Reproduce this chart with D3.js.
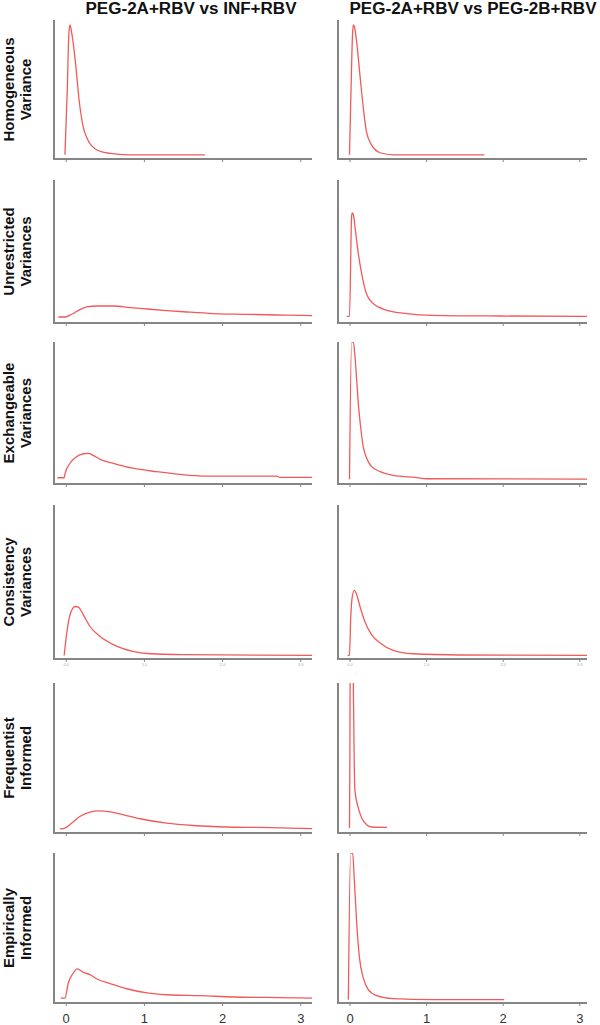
<!DOCTYPE html>
<html>
<head>
<meta charset="utf-8">
<script src="https://cdn.jsdelivr.net/npm/d3@7"></script>
<style>
  html, body { margin: 0; padding: 0; background: #fff; }
  svg { display: block; }
</style>
</head>
<body>
<svg id="chart" width="600" height="1025"></svg>
<script>
// ---- Data (x = value, y = relative density, 0..1 of panel height) ----
const columnTitles = ["PEG-2A+RBV vs INF+RBV", "PEG-2A+RBV vs PEG-2B+RBV"];
const rowLabels = [
  ["Homogeneous", "Variance"],
  ["Unrestricted", "Variances"],
  ["Exchangeable", "Variances"],
  ["Consistency", "Variances"],
  ["Frequentist", "Informed"],
  ["Empirically", "Informed"]
];
const xTicks = [0, 1, 2, 3];
const smallTickLabels = ["0.0", "1.0", "2.0", "3.0"];

const homogeneousLeft = [[-0.01,0.03],[0.02,0.5],[0.04,0.9],[0.055,0.965],[0.077,0.905],[0.13,0.665],[0.17,0.43],[0.22,0.24],[0.28,0.14],[0.40,0.065],[0.57,0.04],[0.8,0.03],[1.78,0.03]];
const homogeneousRight = [[0,0.03],[0.02,0.5],[0.04,0.9],[0.05,0.965],[0.065,0.95],[0.094,0.84],[0.137,0.60],[0.18,0.37],[0.22,0.2],[0.29,0.1],[0.40,0.045],[0.57,0.03],[1.76,0.03]];

const unrestrictedLeft = [[-0.095,0.042],[-0.01,0.042],[0.077,0.061],[0.18,0.094],[0.27,0.112],[0.40,0.119],[0.61,0.119],[0.82,0.108],[1.04,0.098],[1.29,0.087],[1.55,0.077],[1.89,0.066],[2.31,0.061],[2.70,0.056],[3.0,0.054],[3.15,0.052]];
const unrestrictedRight = [[-0.037,0.047],[0,0.047],[0.028,0.75],[0.037,0.77],[0.05,0.76],[0.072,0.67],[0.115,0.486],[0.159,0.346],[0.22,0.206],[0.31,0.136],[0.49,0.089],[0.75,0.066],[1.09,0.054],[1.96,0.049],[3.1,0.047]];

const exchangeableLeft = [[-0.107,0.044],[-0.02,0.044],[-0.01,0.07],[0.055,0.146],[0.12,0.185],[0.225,0.213],[0.29,0.216],[0.35,0.202],[0.44,0.174],[0.61,0.146],[0.86,0.111],[1.16,0.087],[1.46,0.068],[1.80,0.056],[2.70,0.056],[2.74,0.047],[3.15,0.047]];
const exchangeableRight = [[0,0.033],[0.028,1.0],[0.05,1.0],[0.072,0.896],[0.094,0.732],[0.115,0.568],[0.146,0.40],[0.18,0.263],[0.224,0.181],[0.29,0.122],[0.40,0.087],[0.57,0.06],[0.88,0.045],[1.0,0.037],[3.1,0.035]];

const consistencyLeft = [[-0.02,0.023],[0.013,0.168],[0.055,0.287],[0.12,0.341],[0.16,0.337],[0.225,0.287],[0.31,0.211],[0.44,0.146],[0.61,0.093],[0.86,0.049],[1.08,0.034],[1.50,0.028],[3.15,0.023]];
const consistencyRight = [[-0.024,0.023],[0,0.023],[0.015,0.255],[0.037,0.406],[0.063,0.445],[0.094,0.417],[0.137,0.341],[0.20,0.244],[0.29,0.157],[0.40,0.104],[0.57,0.056],[0.83,0.034],[1.44,0.026],[3.1,0.023]];

const frequentistLeft = [[-0.073,0.027],[-0.01,0.033],[0.077,0.066],[0.18,0.11],[0.31,0.139],[0.42,0.148],[0.57,0.141],[0.74,0.121],[0.95,0.095],[1.29,0.066],[1.63,0.050],[2.06,0.040],[2.48,0.037],[3.15,0.029]];
const frequentistRight = [[0,0.033],[0.005,0.5],[0.012,1.5],[0.04,1.5],[0.05,1.0],[0.07,0.287],[0.11,0.177],[0.159,0.10],[0.224,0.055],[0.29,0.04],[0.49,0.037]];

const empiricalLeft = [[-0.064,0.033],[-0.01,0.033],[0.033,0.133],[0.097,0.2],[0.148,0.227],[0.225,0.204],[0.31,0.189],[0.40,0.16],[0.57,0.129],[0.78,0.095],[1.04,0.067],[1.29,0.055],[1.72,0.049],[2.14,0.04],[2.57,0.037],[3.15,0.033]];
const empiricalRight = [[-0.015,0.022],[0.015,1.0],[0.041,1.0],[0.063,0.822],[0.094,0.533],[0.128,0.311],[0.18,0.167],[0.245,0.089],[0.355,0.049],[0.57,0.029],[1.09,0.022],[2.02,0.022]];

const panels = [
  [homogeneousLeft, homogeneousRight],
  [unrestrictedLeft, unrestrictedRight],
  [exchangeableLeft, exchangeableRight],
  [consistencyLeft, consistencyRight],
  [frequentistLeft, frequentistRight],
  [empiricalLeft, empiricalRight]
];

// ---- Layout ----
const rowTop  = [20, 180, 342, 505, 683, 853];
const rowAxis = [159, 323, 484, 659, 833, 1003];
const colX0 = [54, 338];
const colX1 = [312, 587];
const colDomain = [[-0.15, 3.15], [-0.15, 3.1]];
const axisColor = "#858585";
const lineColor = "#f25a5a";

const svg = d3.select("#chart");
const defs = svg.append("defs");

// titles
const titleCenters = [191, 473];
const titleWidths = [211, 247];
columnTitles.forEach((t, i) => {
  svg.append("text")
    .attr("x", titleCenters[i]).attr("y", 14)
    .attr("text-anchor", "middle")
    .attr("font-family", "Liberation Sans, Arial, sans-serif")
    .attr("font-weight", "bold").attr("font-size", 16)
    .attr("textLength", titleWidths[i]).attr("lengthAdjust", "spacingAndGlyphs")
    .attr("fill", "#111")
    .text(t);
});

rowLabels.forEach((lab, r) => {
  const cy = (rowTop[r] + rowAxis[r]) / 2;
  const g = svg.append("g").attr("transform", `translate(0,${cy}) rotate(-90)`);
  lab.forEach((s, k) => {
    g.append("text")
      .attr("x", 0).attr("y", 14 + k * 17)
      .attr("text-anchor", "middle")
      .attr("font-family", "Liberation Sans, Arial, sans-serif")
      .attr("font-weight", "bold").attr("font-size", 15)
      .attr("fill", "#111")
      .text(s);
  });
});

panels.forEach((row, r) => {
  row.forEach((data, c) => {
    const x = d3.scaleLinear().domain(colDomain[c]).range([colX0[c], colX1[c]]);
    const y = d3.scaleLinear().domain([0, 1]).range([rowAxis[r], rowTop[r]]);
    const g = svg.append("g");
    const clipId = `clip-${r}-${c}`;
    defs.append("clipPath").attr("id", clipId)
      .append("rect")
      .attr("x", colX0[c]).attr("y", rowTop[r])
      .attr("width", colX1[c] - colX0[c]).attr("height", rowAxis[r] - rowTop[r]);

    // x axis
    const xAxis = d3.axisBottom(x).tickValues(xTicks).tickSize(3)
      .tickFormat(r === 5 ? d3.format("d") : () => "");
    const ax = g.append("g").attr("transform", `translate(0,${rowAxis[r]})`).call(xAxis);
    ax.select(".domain").attr("stroke", axisColor).attr("stroke-width", 2)
      .attr("d", `M${colX0[c]},0H${colX1[c]}`);
    ax.selectAll(".tick line").attr("stroke", axisColor).attr("stroke-width", 1);
    ax.selectAll(".tick text")
      .attr("font-family", "Liberation Sans, Arial, sans-serif")
      .attr("font-size", 13).attr("fill", "#333")
      .attr("y", 20).attr("dy", null);

    if (r === 3) {
      ax.selectAll(".tick").append("text")
        .attr("y", 7).attr("text-anchor", "middle")
        .attr("font-family", "Liberation Sans, Arial, sans-serif")
        .attr("font-size", 4).attr("fill", "#aaa")
        .text((d, i) => smallTickLabels[i]);
    }

    // y axis (line only)
    const yAxis = d3.axisLeft(y).tickValues([]).tickSize(0);
    const ay = g.append("g").attr("transform", `translate(${colX0[c]},0)`).call(yAxis);
    ay.select(".domain").attr("stroke", axisColor).attr("stroke-width", 2)
      .attr("d", `M0,${rowTop[r]}V${rowAxis[r] + 1}`);

    // density line
    const line = d3.line().x(d => x(d[0])).y(d => y(d[1])).curve(d3.curveMonotoneX);
    g.append("path").datum(data)
      .attr("clip-path", `url(#${clipId})`)
      .attr("fill", "none").attr("stroke", lineColor).attr("stroke-width", 1.3)
      .attr("d", line);
  });
});
</script>
</body>
</html>
